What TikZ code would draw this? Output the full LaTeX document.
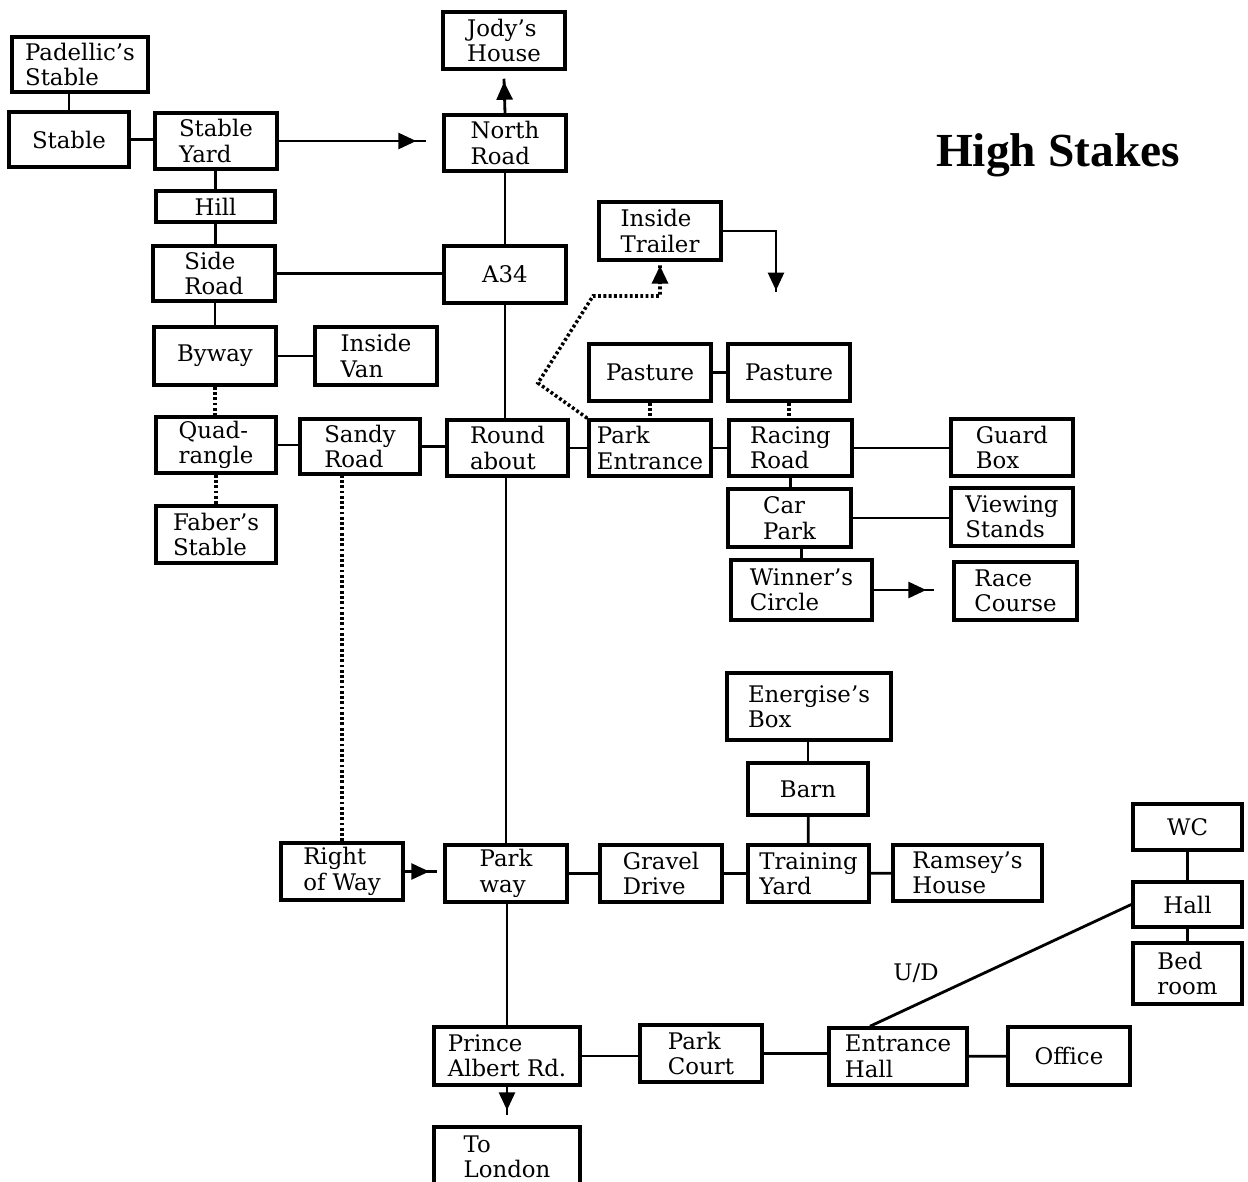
\documentclass[tikz,border=0pt]{standalone}
\usepackage{fontspec}
\setmainfont{DejaVu Serif}
\newfontfamily\titlefont{Liberation Serif}
\usetikzlibrary{arrows.meta,calc,decorations.markings}

\begin{document}
\begin{tikzpicture}[
    x=0.02cm, y=-0.02cm,
    every node/.style={font=\fontsize{13}{14.5}\selectfont},
    place/.style={draw, line width=2pt, minimum width=2.44cm, minimum height=1.12cm,
                  inner sep=2pt, align=left},
    dims/.style 2 args={minimum width=#1cm, minimum height=#2cm},
    link/.style={line width=1.6pt},
    dots/.style={line width=2pt, dash pattern=on 1.6pt off 1.4pt},
    tipto/.style={postaction={decorate}, decoration={markings,
                  mark=at position -#1 with {\arrow{Triangle[length=3.6mm,width=3.2mm]}}}},
    tipto/.default=1mm,
  ]
  \useasboundingbox (0,0) rectangle (1248,1182);
  \fill[white] (0,0) rectangle (1248,1182);

  % --- title ---
  \node[font=\titlefont\bfseries\fontsize{27}{30}\selectfont] (title) at (1058,155) {High Stakes};

  % --- stables and north ---
  \node[place, dims={2.72}{1.10}] (padellic) at (80,64.5) {Padellic's\\Stable};
  \node[place, dims={2.44}{1.14}] (jody) at (504,40.5) {Jody's\\House};
  \node[place, dims={2.40}{1.10}] (stable) at (69,139.5) {Stable};
  \node[place] (stableyard) at (216,141) {Stable\\Yard};
  \node[place] (northrd) at (505,143) {North\\Road};
  \node[place, dims={2.38}{0.62}] (hill) at (215.5,206.5) {Hill};
  \node[place, dims={2.44}{1.10}] (sideroad) at (214,273.5) {Side\\Road};
  \node[place, dims={2.44}{1.14}] (a34) at (505,274.5) {A34};
  \node[place, dims={2.44}{1.16}] (trailer) at (660,231) {Inside\\Trailer};
  \node[place, dims={2.44}{1.16}] (byway) at (215,356) {Byway};
  \node[place, dims={2.44}{1.16}] (van) at (376,356) {Inside\\Van};

  % --- middle row ---
  \node[place, dims={2.44}{1.14}] (pastA) at (650,372.5) {Pasture};
  \node[place, dims={2.44}{1.14}] (pastB) at (789,372.5) {Pasture};
  \node[place, dims={2.40}{1.12}] (quad) at (216,445) {Quad-\\rangle};
  \node[place, dims={2.40}{1.10}] (sandy) at (360,446.5) {Sandy\\Road};
  \node[place, dims={2.42}{1.12}] (roundabout) at (507.5,448) {Round\\about};
  \node[place] (parkent) at (650,448) {Park\\Entrance};
  \node[place, dims={2.46}{1.12}] (racing) at (790.5,448) {Racing\\Road};
  \node[place, dims={2.44}{1.14}] (guard) at (1012,447.5) {Guard\\Box};
  \node[place, dims={2.40}{1.14}] (faber) at (216,534.5) {Faber's\\Stable};
  \node[place, dims={2.46}{1.16}] (carpark) at (789.5,518) {Car\\Park};
  \node[place, dims={2.44}{1.16}] (stands) at (1012,517) {Viewing\\Stands};
  \node[place, dims={2.82}{1.20}] (winners) at (801.5,590) {Winner's\\Circle};
  \node[place, dims={2.46}{1.16}] (racecourse) at (1015.5,591) {Race\\Course};

  % --- training area ---
  \node[place, dims={3.28}{1.34}] (energise) at (809,706.5) {Energise's\\Box};
  \node[place, dims={2.40}{1.04}] (barn) at (808,789) {Barn};
  \node[place, dims={2.44}{1.14}] (rightway) at (342,871.5) {Right\\of Way};
  \node[place, dims={2.44}{1.14}] (parkway) at (506,873.5) {Park\\way};
  \node[place, dims={2.44}{1.14}] (gravel) at (661,873.5) {Gravel\\Drive};
  \node[place, dims={2.42}{1.14}] (training) at (808.5,873.5) {Training\\Yard};
  \node[place, dims={2.98}{1.12}] (ramsey) at (967.5,873) {Ramsey's\\House};

  % --- house ---
  \node[place, dims={2.18}{0.92}] (wc) at (1187.5,827) {WC};
  \node[place, dims={2.18}{0.90}] (hall) at (1187.5,904.5) {Hall};
  \node[place, dims={2.18}{1.22}] (bedroom) at (1187.5,973.5) {Bed\\room};
  \node[place, dims={2.92}{1.16}] (prince) at (507,1056) {Prince\\Albert Rd.};
  \node[place, dims={2.44}{1.14}] (parkcourt) at (701,1053.5) {Park\\Court};
  \node[place, dims={2.76}{1.14}] (enthall) at (898,1056.5) {Entrance\\Hall};
  \node[place, dims={2.44}{1.16}] (office) at (1069,1056) {Office};
  \node[place, dims={2.92}{1.20}] (london) at (507,1157) {To\\London};
  \node (ud) at (916,973) {U/D};

  % --- solid links ---
  \draw[link] (padellic.south -| stable.north) -- (stable.north);
  \draw[link] (stable.east) -- (stableyard.west |- stable.east);
  \draw[link] (hill.north) -- (hill.north |- stableyard.south);
  \draw[link] (hill.south) -- (hill.south |- sideroad.north);
  \draw[link] (byway.north) -- (byway.north |- sideroad.south);
  \draw[link] (sideroad.east) -- (a34.west |- sideroad.east);
  \draw[link] (northrd) -- (a34);
  \draw[link] (byway) -- (van);
  \draw[link] (quad.east) -- (sandy.west |- quad.east);
  \draw[link] (sandy.east) -- (roundabout.west |- sandy.east);
  \draw[link] (roundabout) -- (parkent) -- (racing);
  \draw[link] (racing.east) -- (guard.west |- racing.east);
  \draw[link] (a34.south) -- (a34.south |- roundabout.north);
  \draw[link] (parkway.north |- roundabout.south) -- (parkway.north);
  \draw[link] (pastA) -- (pastB);
  \draw[link] (racing.south) -- (racing.south |- carpark.north);
  \draw[link] (carpark.east) -- (stands.west |- carpark.east);
  \draw[link] (winners.north) -- (winners.north |- carpark.south);
  \draw[link] (energise.south -| barn.north) -- (barn.north);
  \draw[link] (barn) -- (training);
  \draw[link] (parkway) -- (gravel) -- (training) -- (ramsey);
  \draw[link] (prince.north) -- (prince.north |- parkway.south);
  \draw[link] (prince.east) -- (parkcourt.west |- prince.east);
  \draw[link] (parkcourt.east) -- (enthall.west |- parkcourt.east);
  \draw[link] (enthall) -- (office);
  \draw[link] (wc) -- (hall) -- (bedroom);
  \draw[link] ($(enthall.north)+(-28,0)$) -- (hall.west);

  % --- dotted links ---
  \draw[dots] (byway.south) -- (byway.south |- quad.north);
  \draw[dots] (quad.south) -- (quad.south |- faber.north);
  \draw[dots] (rightway.north) -- (rightway.north |- sandy.south);
  \draw[dots] (pastA.south) -- (pastA.south |- parkent.north);
  \draw[dots] (pastB.south) -- (pastB.south |- racing.north);
  \coordinate (bendA) at (538,383);
  \coordinate (bendB) at (593,296);
  \draw[dots, tipto=0.2mm] (parkent.north west) -- (bendA) -- (bendB)
    -| ($(trailer.south)+(0,3)$);

  % --- arrows ---
  \coordinate (drop) at (776,292);
  \draw[link, tipto=0.3mm] (trailer.east) -| (drop);
  \draw[link, tipto=2mm] (stableyard.east) -- ($(northrd.west |- stableyard.east)+(-16,0)$);
  \draw[link, tipto=0.6mm] (northrd.north) -- ($(jody.south)+(0,8)$);
  \draw[link, tipto=1.6mm] (winners.east) -- ($(racecourse.west |- winners.east)+(-18,0)$);
  \draw[link, tipto=1.6mm] (rightway.east) -- ($(parkway.west |- rightway.east)+(-6,0)$);
  \draw[link, tipto=1mm] (prince.south) -- ($(prince.south |- london.north)+(0,-10)$);
\end{tikzpicture}
\end{document}
